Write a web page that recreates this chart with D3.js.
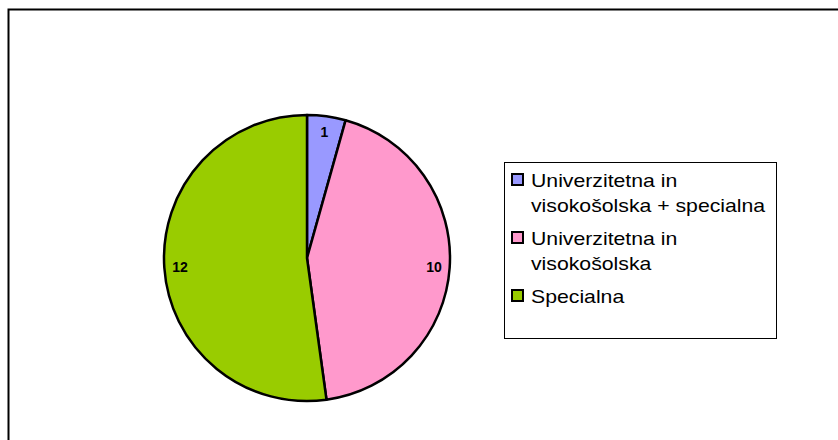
<!DOCTYPE html>
<html>
<head>
<meta charset="utf-8">
<script src="https://cdn.jsdelivr.net/npm/d3@7"></script>
<style>
  body { margin: 0; background: #fff; }
  svg { display: block; font-family: "Liberation Sans", Arial, sans-serif; }
</style>
</head>
<body>
<script>
// data
var categories = ["Univerzitetna in visokošolska + specialna", "Univerzitetna in visokošolska", "Specialna"];
var legendLines = [["Univerzitetna in", "visokošolska + specialna"], ["Univerzitetna in", "visokošolska"], ["Specialna"]];
var values = [1, 10, 12];
var colors = ["#9999ff", "#ff99cc", "#99cc00"];

var width = 838, height = 440;
var cx = 307, cy = 258, radius = 143;

var svg = d3.select("body").append("svg")
    .attr("width", width)
    .attr("height", height);

svg.append("rect").attr("width", width).attr("height", height).attr("fill", "#fff");

// outer chart frame (only top and left are in view)
svg.append("path")
    .attr("d", "M8.5,440 L8.5,9.5 L838,9.5")
    .attr("fill", "none")
    .attr("stroke", "#000")
    .attr("stroke-width", 2);

var pie = d3.pie().sort(null).value(function(d) { return d; });
var arc = d3.arc().innerRadius(0).outerRadius(radius);
var labelArc = d3.arc().innerRadius(radius * 0.89).outerRadius(radius * 0.89);

var g = svg.append("g").attr("transform", "translate(" + cx + "," + cy + ")");

var arcs = pie(values);

g.selectAll("path.slice")
    .data(arcs)
    .enter().append("path")
    .attr("class", "slice")
    .attr("d", arc)
    .attr("fill", function(d, i) { return colors[i]; })
    .attr("stroke", "#000")
    .attr("stroke-width", 2.5)
    .attr("stroke-linejoin", "round");

g.selectAll("text.lbl")
    .data(arcs)
    .enter().append("text")
    .attr("class", "lbl")
    .attr("transform", function(d) { return "translate(" + labelArc.centroid(d) + ")"; })
    .attr("dy", "0.35em")
    .attr("text-anchor", "middle")
    .style("font-size", "14px")
    .style("font-weight", "bold")
    .text(function(d) { return d.data; });

// legend
var lx = 504, ly = 162, lw = 272, lh = 176;
svg.append("rect")
    .attr("x", lx + 0.5).attr("y", ly + 0.5)
    .attr("width", lw).attr("height", lh)
    .attr("fill", "#fff")
    .attr("stroke", "#000")
    .attr("stroke-width", 1);

var lineH = 25;
var rowBase = [187, 245, 303];

var items = svg.selectAll("g.legend")
    .data(categories)
    .enter().append("g")
    .attr("class", "legend")
    .attr("transform", function(d, i) { return "translate(0," + rowBase[i] + ")"; });

items.append("rect")
    .attr("x", 512).attr("y", -13)
    .attr("width", 11).attr("height", 11)
    .attr("fill", function(d, i) { return colors[i]; })
    .attr("stroke", "#000")
    .attr("stroke-width", 2);

// text in the reference is drawn horizontally stretched
items.append("text")
    .attr("transform", "translate(531,0) scale(1.18,1)")
    .style("font-size", "18px")
    .selectAll("tspan")
    .data(function(d, i) { return legendLines[i]; })
    .enter().append("tspan")
    .attr("x", 0)
    .attr("y", function(d, j) { return j * lineH; })
    .text(function(d) { return d; });
</script>
</body>
</html>
